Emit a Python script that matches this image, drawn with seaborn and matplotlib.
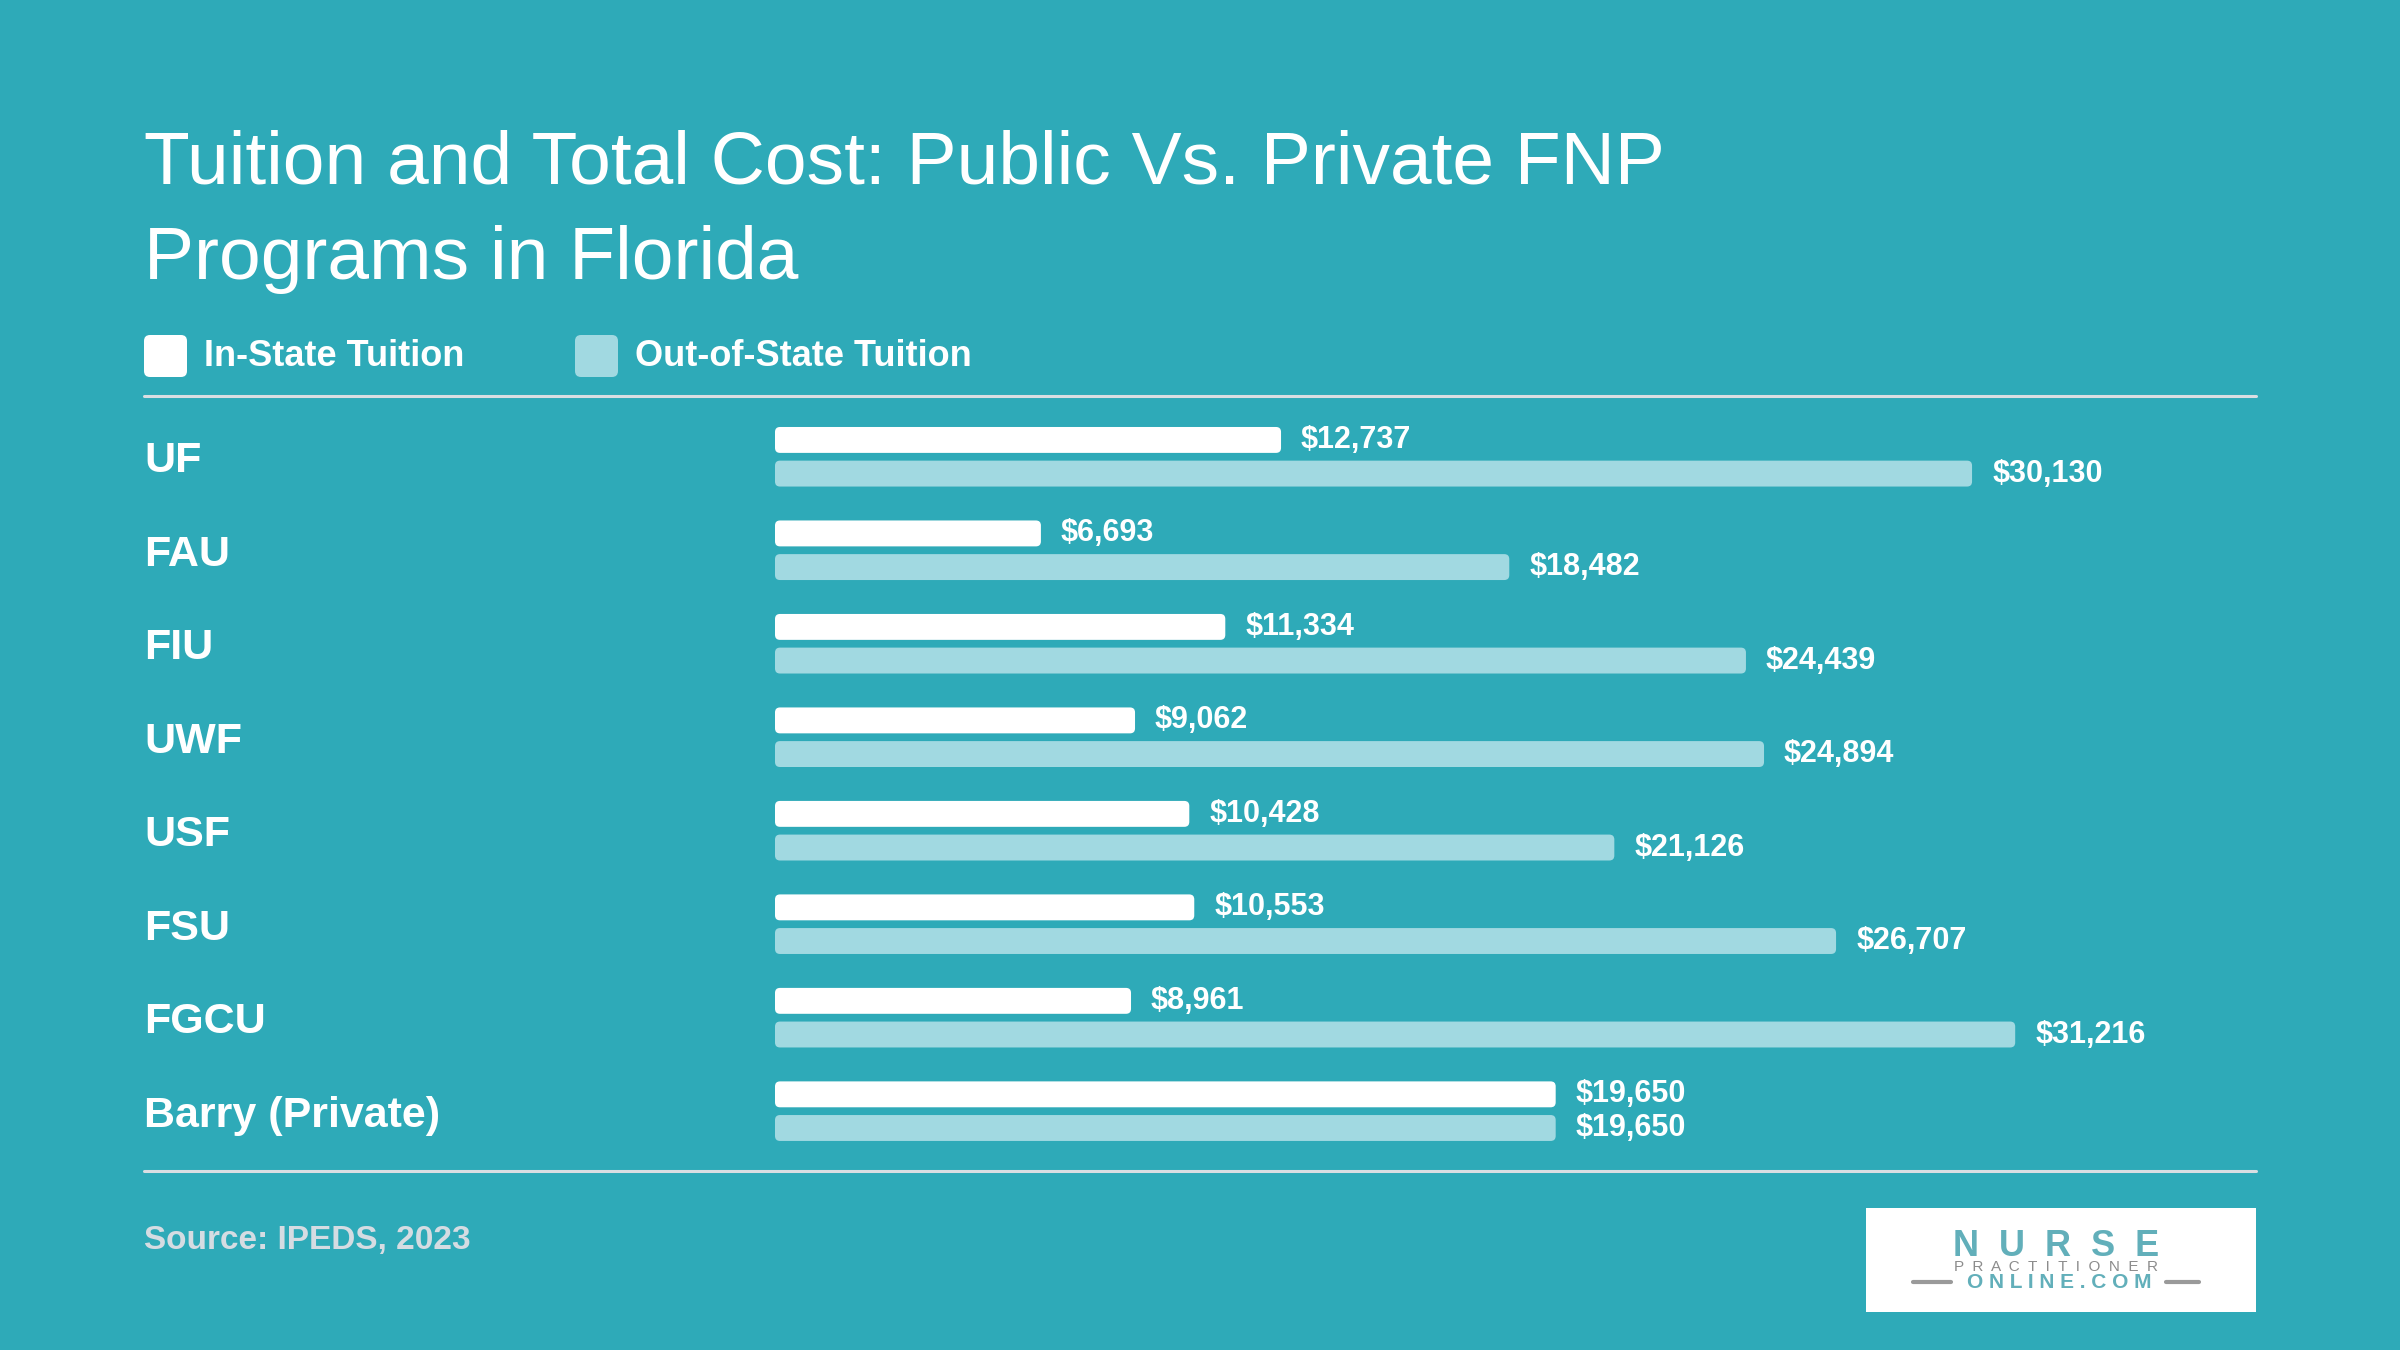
import matplotlib.pyplot as plt
import pandas as pd
import seaborn as sns
from matplotlib.patches import FancyBboxPatch

schools = ["UF", "FAU", "FIU", "UWF", "USF", "FSU", "FGCU", "Barry (Private)"]
in_state = [12737, 6693, 11334, 9062, 10428, 10553, 8961, 19650]
out_state = [30130, 18482, 24439, 24894, 21126, 26707, 31216, 19650]
series = ["In-State Tuition", "Out-of-State Tuition"]

BG = "#2EAAB8"
LIGHT = "#A1D9E1"
RULE = "#D9DEE2"

df = pd.DataFrame({
    "school": schools * 2,
    "tuition": in_state + out_state,
    "type": [series[0]] * len(schools) + [series[1]] * len(schools),
})

sns.set_theme(style="white")
plt.rcParams["font.family"] = ["Liberation Sans", "DejaVu Sans"]

W, H = 2400, 1350
fig = plt.figure(figsize=(24, 13.5), dpi=100, facecolor=BG)

# decoration layer in pixel coordinates
deco = fig.add_axes([0, 0, 1, 1])
deco.set_xlim(0, W)
deco.set_ylim(H, 0)
deco.axis("off")

# bar axes
left, right, top, bottom = 775, 2256, 396, 1171
ax = fig.add_axes([left / W, 1 - bottom / H, (right - left) / W, (bottom - top) / H])
ax.set_facecolor("none")

sns.barplot(
    data=df, y="school", x="tuition", hue="type", hue_order=series,
    palette={series[0]: "white", series[1]: LIGHT}, saturation=1,
    orient="h", width=0.72, gap=0.23, errorbar=None, legend=False, ax=ax,
)
xmax = 37277
ax.set_xlim(0, xmax)
ax.set_ylim(7.64, -0.65)
ax.set_xlabel("")
ax.set_ylabel("")
ax.set_xticks([])
sns.despine(ax=ax, left=True, bottom=True)
ax.tick_params(axis="y", length=0, pad=454, labelsize=31, labelcolor="white")
for lbl in ax.get_yticklabels():
    lbl.set_ha("left")
    lbl.set_fontweight("bold")

for cont in ax.containers:
    ax.bar_label(cont, fmt=lambda v: f"${v:,.0f}", padding=14.4,
                 color="white", fontsize=22, fontweight="bold")

# rounded bar ends
px_x = xmax / (right - left)
px_y = 8.29 / (bottom - top)
r = 5 * px_x
aspect = (5 * px_y) / r
for p in list(ax.patches):
    x0, y0, w, h = p.get_x(), p.get_y(), p.get_width(), p.get_height()
    ax.add_patch(FancyBboxPatch((x0, y0), w, h,
                                boxstyle=f"round,pad=0,rounding_size={r}",
                                mutation_aspect=aspect, facecolor=p.get_facecolor(),
                                edgecolor="none", zorder=2))
    p.remove()

# title
deco.text(144, 184, "Tuition and Total Cost: Public Vs. Private FNP",
          color="white", fontsize=54, va="baseline", ha="left")
deco.text(144, 279, "Programs in Florida",
          color="white", fontsize=54, va="baseline", ha="left")

# legend
for x0, col, label in [(144, "white", series[0]), (575, LIGHT, series[1])]:
    deco.add_patch(FancyBboxPatch((x0, 335), 43, 42,
                                  boxstyle="round,pad=0,rounding_size=6",
                                  facecolor=col, edgecolor="none"))
    deco.text(x0 + 60, 356, label, color="white", fontsize=26,
              fontweight="bold", va="center", ha="left")

# rules
deco.plot([144, 2256], [396, 396], color=RULE, lw=2.2)
deco.plot([144, 2256], [1171, 1171], color=RULE, lw=2.2)

# source
deco.text(144, 1240, "Source: IPEDS, 2023", color="#D5DCE2", fontsize=24,
          fontweight="bold", va="center", ha="left")

# logo
deco.add_patch(plt.Rectangle((1866, 1208), 390, 104, facecolor="white", edgecolor="none"))
deco.text(2056, 1247, "N  U  R  S  E", color="#62AFBA", fontsize=26, fontweight="heavy",
          ha="center", va="center")
deco.text(2056, 1267, "P  R  A  C  T  I  T  I  O  N  E  R", color="#8C8C8C", fontsize=11,
          ha="center", va="center")
deco.text(2059, 1282, "O N L I N E . C O M", color="#62AFBA", fontsize=15, fontweight="bold",
          ha="center", va="center")
deco.plot([1913, 1951], [1282, 1282], color="#9A9A9A", lw=3)
deco.plot([2166, 2199], [1282, 1282], color="#9A9A9A", lw=3)

fig.savefig("out.png", dpi=100, facecolor=BG)
